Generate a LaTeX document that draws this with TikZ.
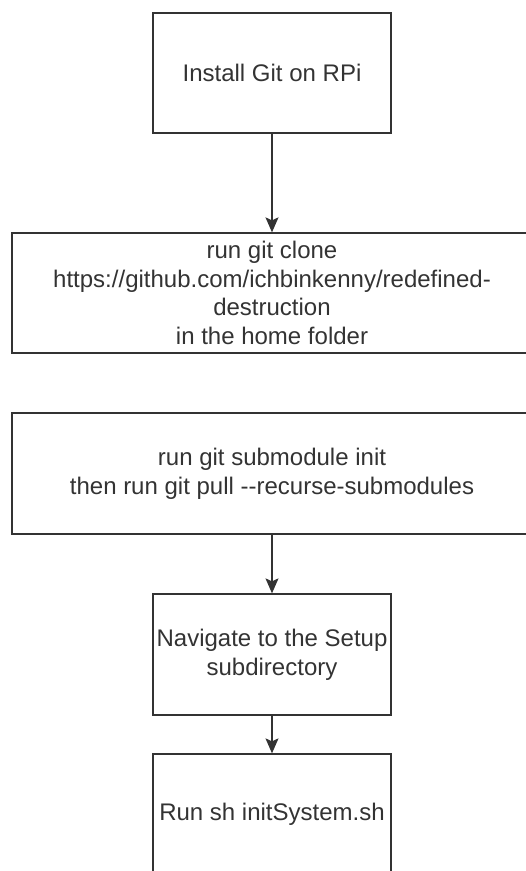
\documentclass[tikz,border=0pt]{standalone}
\usepackage{fontspec}
\setmainfont{Liberation Sans}
\usetikzlibrary{arrows.meta}

\tikzset{
  stepbox/.style={rectangle, draw=black!80, line width=1.3pt, inner sep=0pt,
    align=center, text=black!80,
    font=\fontsize{24}{28.8}\selectfont},
  flow/.style={draw=black!80, line width=1.3pt,
    -{Stealth[length=15pt, width=13pt, inset=3pt]}}
}

\begin{document}
\begin{tikzpicture}[x=1pt, y=-1pt]
        \useasboundingbox (0,0) rectangle (526,871);
        \clip (0,0) rectangle (526,871);

        % Define the steps
        \node[stepbox, minimum width=238pt, minimum height=120pt] (install) at (272,73) {Install Git on RPi};

        \node[stepbox, minimum width=520pt, minimum height=120pt] (clone) at (272,293)
            {run git clone\\https://github.com/ichbinkenny/redefined-\\destruction\\in the home folder};

        \node[stepbox, minimum width=520pt, minimum height=121pt] (submod) at (272,473.5)
            {run git submodule init\\then run git pull -{}-recurse-submodules};

        \node[stepbox, minimum width=238pt, minimum height=121pt] (setup) at (272,654.5)
            {Navigate to the Setup\\subdirectory};

        \node[stepbox, minimum width=238pt, minimum height=120pt] (initsys) at (272,814) {Run sh initSystem.sh};

        % Define the arrows
        \draw[flow] (install) -- (clone);
        \draw[flow] (submod) -- (setup);
        \draw[flow] (setup) -- (initsys);

    \end{tikzpicture}
\end{document}
